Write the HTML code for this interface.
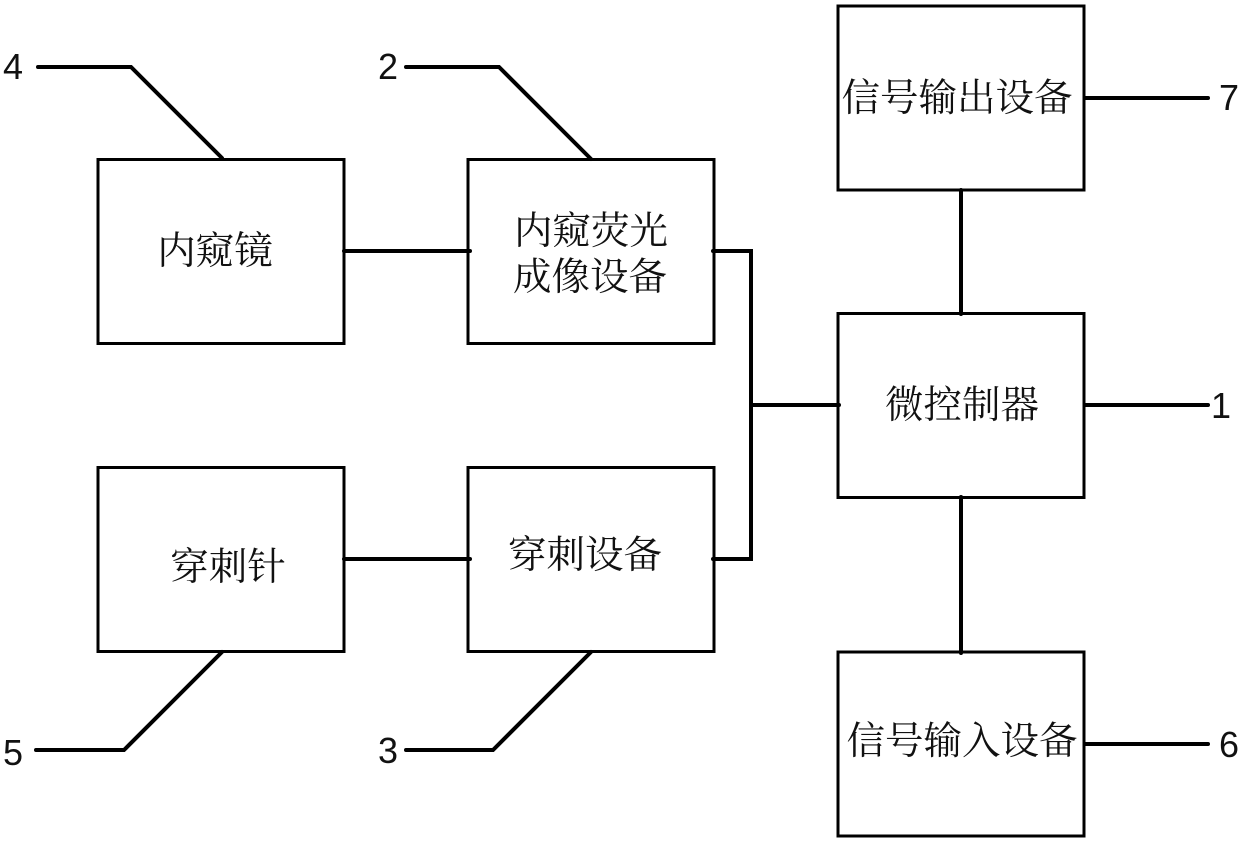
<!DOCTYPE html>
<html>
<head>
<meta charset="utf-8">
<style>
html,body{margin:0;padding:0;background:#fff;}
svg{display:block;}
text{fill:#111;}
.cn{font-size:38.500px;font-family:"Liberation Serif","Noto Serif CJK SC",serif;font-weight:400;}
.n{font-size:36px;font-family:"Liberation Sans",sans-serif;}
</style>
</head>
<body>
<svg width="1240" height="841" viewBox="0 0 1240 841" xmlns="http://www.w3.org/2000/svg">
<g fill="none" stroke="#000" stroke-width="3">
<rect x="98" y="159.500" width="246" height="184"/>
<rect x="468" y="159.500" width="246" height="184"/>
<rect x="98" y="467.500" width="246" height="184"/>
<rect x="468" y="467.500" width="246" height="184"/>
<rect x="838" y="6" width="246" height="184"/>
<rect x="838" y="313.500" width="246" height="184"/>
<rect x="838" y="652" width="246" height="184"/>
</g>
<g fill="none" stroke="#000" stroke-width="4" stroke-linecap="round">
<path d="M38 67H131L222 158"/>
<path d="M406 67H499L591 159"/>
<path d="M36 750H124L222 652"/>
<path d="M406 750H493L591 652"/>
<path d="M344 251H470"/>
<path d="M344 559H470"/>
<path d="M713 251H751V559H713"/>
<path d="M751 405H839"/>
<path d="M961 190V314"/>
<path d="M961 497V653"/>
<path d="M1085 98H1208"/>
<path d="M1085 405H1208"/>
<path d="M1085 744H1208"/>
</g>
<text class="cn" x="215" y="264" text-anchor="middle">内窥镜</text>
<text class="cn" x="591" y="244" text-anchor="middle">内窥荧光</text>
<text class="cn" x="590" y="290" text-anchor="middle">成像设备</text>
<text class="cn" x="228" y="580" text-anchor="middle">穿刺针</text>
<text class="cn" x="585" y="568" text-anchor="middle">穿刺设备</text>
<text class="cn" x="957" y="111" text-anchor="middle">信号输出设备</text>
<text class="cn" x="962" y="418" text-anchor="middle">微控制器</text>
<text class="cn" x="962" y="754" text-anchor="middle">信号输入设备</text>
<text class="n" x="3" y="79">4</text>
<text class="n" x="378" y="79">2</text>
<text class="n" x="3" y="765">5</text>
<text class="n" x="378" y="763">3</text>
<text class="n" x="1219" y="110">7</text>
<text class="n" x="1211" y="418">1</text>
<text class="n" x="1219" y="757">6</text>
</svg>
</body>
</html>
